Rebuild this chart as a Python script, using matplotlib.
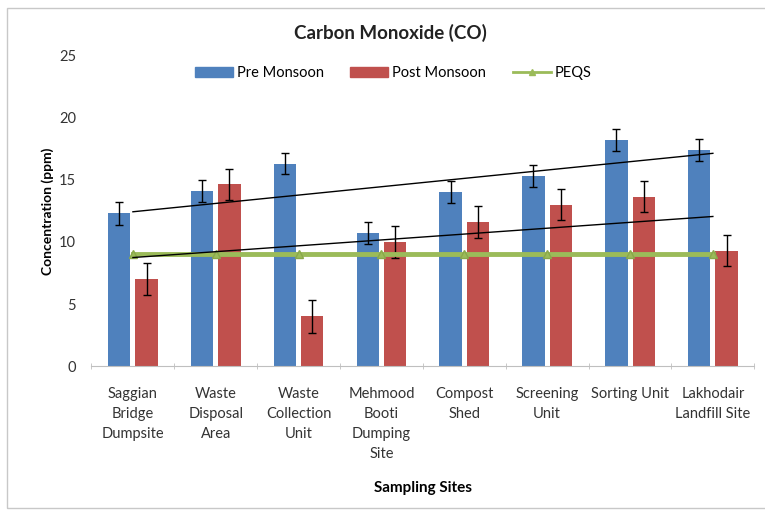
import numpy as np
import matplotlib
matplotlib.use("Agg")
import matplotlib.pyplot as plt
from matplotlib.patches import Rectangle
from matplotlib.lines import Line2D
from matplotlib.patches import Patch

plt.rcParams['font.family'] = ['Lato', 'DejaVu Sans']

sites = ["Saggian\nBridge\nDumpsite", "Waste\nDisposal\nArea", "Waste\nCollection\nUnit",
         "Mehmood\nBooti\nDumping\nSite", "Compost\nShed", "Screening\nUnit",
         "Sorting Unit", "Lakhodair\nLandfill Site"]
pre = [12.3, 14.1, 16.3, 10.7, 14.0, 15.3, 18.2, 17.4]
post = [7.0, 14.65, 4.0, 10.0, 11.6, 13.0, 13.65, 9.3]
pre_err = [0.9, 0.9, 0.85, 0.9, 0.9, 0.9, 0.9, 0.9]
post_err = [1.3, 1.25, 1.3, 1.3, 1.3, 1.25, 1.25, 1.25]
peqs = [9, 9, 9, 9, 9, 9, 9, 9]

blue = "#4F81BD"
red = "#C0504D"
green = "#9BBB59"

fig = plt.figure(figsize=(7.65, 5.12), dpi=100)
ax = fig.add_axes([0.1196, 0.285, 0.8664, 0.606])

# chart border
fig.patches.append(Rectangle((0.009, 0.008), 1.2, 0.976, transform=fig.transFigure,
                             fill=False, edgecolor="#C8C8C8", linewidth=1.0))

x = np.arange(len(sites))
w = 0.27
off = 0.165
ax.bar(x - off, pre, width=w, color=blue, zorder=2)
ax.bar(x + off, post, width=w, color=red, zorder=2)
ax.errorbar(x - off, pre, yerr=pre_err, fmt='none', ecolor='black', elinewidth=1,
            capsize=3, capthick=1, zorder=3)
ax.errorbar(x + off, post, yerr=post_err, fmt='none', ecolor='black', elinewidth=1,
            capsize=3, capthick=1, zorder=3)

ax.plot(x, peqs, color=green, linewidth=3.5, marker='^', markersize=6,
        markerfacecolor=green, markeredgecolor="#8AA84A", zorder=4)

# linear trendlines
for series in (pre, post):
    c = np.polyfit(x, series, 1)
    ax.plot([x[0], x[-1]], np.polyval(c, [x[0], x[-1]]), color='black',
            linewidth=1, zorder=5)

ax.set_xlim(-0.5, len(sites) - 0.5)
ax.set_ylim(0, 25)
ax.set_yticks([0, 5, 10, 15, 20, 25])
ax.set_xticks(x)
ax.set_xticklabels(sites, fontsize=10.5, color="#333333", linespacing=1.55)
ax.set_xticks(np.arange(-0.5, len(sites), 1), minor=True)
ax.tick_params(axis='x', which='major', length=0, pad=15)
ax.tick_params(axis='x', which='minor', length=4, direction='inout', color="#BFBFBF")
ax.tick_params(axis='y', length=0, labelsize=10.5, labelcolor="#333333", pad=11)

for s in ['top', 'right', 'left']:
    ax.spines[s].set_visible(False)
ax.spines['bottom'].set_color("#BFBFBF")

ax.set_ylabel("Concentration (ppm)", fontsize=10, fontweight='bold', labelpad=4)
ax.set_xlabel("Sampling Sites", fontsize=11, fontweight='bold', labelpad=14)
fig.text(0.510, 0.935, "Carbon Monoxide (CO)", ha='center', va='center',
         fontsize=13.5, fontweight='bold', color="#222222")

handles = [Patch(color=blue), Patch(color=red),
           Line2D([0], [0], color=green, linewidth=2, marker='^', markersize=5)]
fig.legend(handles, ["Pre Monsoon", "Post Monsoon", "PEQS"], loc='center',
           bbox_to_anchor=(0.514, 0.857), ncol=3, frameon=False, fontsize=10.5,
           handlelength=2.6, handleheight=0.6, columnspacing=1.8, handletextpad=0.3)

fig.savefig("out.png", dpi=100)
